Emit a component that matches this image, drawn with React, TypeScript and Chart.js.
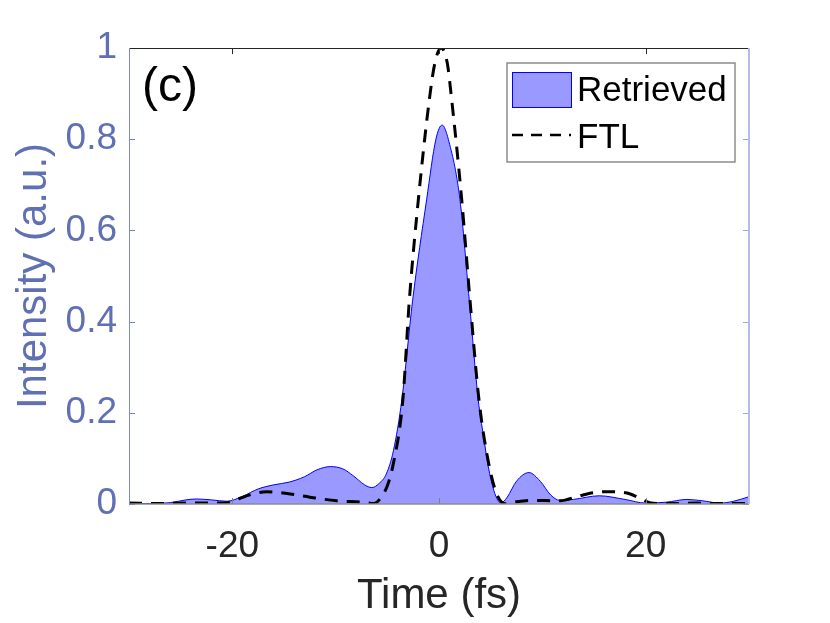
import React, { useEffect, useRef } from 'react';
import { Chart, registerables } from 'chart.js';

Chart.register(...registerables);

// ---- data ----
const retrievedTime = [
  -30, -28, -26, -24.5, -23.5, -22, -20.5, -19, -17.5, -16, -14.5, -13, -11.8, -10.5, -9.3, -8.3,
  -7.2, -6.5, -5.8, -5.1, -4.4, -3.6, -2.55, -1.2, -0.3, 0.3, 0.9, 2.03, 2.93, 3.8, 4.3, 4.77,
  5.3, 5.7, 6.0, 6.6, 7.5, 8.7, 9.8, 10.8, 11.7, 13, 15.5, 18, 20, 22, 24, 25.5, 27.2, 28.5, 30,
];
const retrievedIntensity = [
  0.001, 0.001, 0.003, 0.009, 0.011, 0.009, 0.006, 0.017, 0.033, 0.042, 0.048, 0.06, 0.075, 0.082, 0.077, 0.062,
  0.042, 0.036, 0.045, 0.066, 0.118, 0.228, 0.447, 0.667, 0.8, 0.831, 0.8, 0.667, 0.447, 0.228, 0.15, 0.082,
  0.03, 0.008, 0.002, 0.015, 0.05, 0.069, 0.05, 0.02, 0.008, 0.01, 0.018, 0.01, 0.002, 0.004, 0.01, 0.007, 0.002, 0.006, 0.016,
];
const ftlTime = [
  -30, -27, -24, -22, -20.5, -19.3, -18.3, -16.7, -14.7, -12.5, -9.9, -7.3, -6.3, -5.55, -5.0, -4.48,
  -3.5, -2.87, -2.0, -0.94, -0.4, 0.2, 0.8, 1.23, 2.2, 3.0, 3.87, 4.87, 5.7, 6.5, 7.5, 8.8, 11.7,
  13.6, 15, 16.5, 18.2, 19.5, 20.4, 22, 25, 27, 30,
];
const ftlIntensity = [
  0.002, 0.001, 0.002, 0.002, 0.003, 0.012, 0.02, 0.027, 0.023, 0.015, 0.007, 0.004, 0.001, 0.016, 0.04, 0.082,
  0.228, 0.447, 0.667, 0.886, 0.967, 1.0, 0.967, 0.886, 0.667, 0.447, 0.228, 0.082, 0.016, 0.0, 0.005, 0.008, 0.007,
  0.018, 0.025, 0.027, 0.024, 0.012, 0.003, 0.001, 0.002, 0.001, 0.001,
];
const seriesLabels = ['Retrieved', 'FTL'];
const xTickValues = [-20, 0, 20];
const yTickValues = [0, 0.2, 0.4, 0.6, 0.8, 1];
const xTitle = 'Time (fs)';
const yTitle = 'Intensity (a.u.)';
const panelLabel = '(c)';

const FONT = '"Liberation Sans", Arial, Helvetica, sans-serif';
const Y_COLOR = '#5f70b5';
const X_COLOR = '#262626';
const FILL = '#9999ff';
const EDGE = '#0000ff';

const framePlugin = {
  id: 'frame',
  afterDatasetsDraw(chart: any) {
    const { ctx, chartArea: a, scales } = chart;
    const xs = scales.x;
    const ys = scales.y;
    const tl = 6;
    ctx.save();
    // inward ticks
    ctx.lineWidth = 1;
    xTickValues.forEach((v) => {
      const px = Math.round(xs.getPixelForValue(v)) + 0.5;
      ctx.strokeStyle = '#808080';
      ctx.beginPath();
      ctx.moveTo(px, a.bottom);
      ctx.lineTo(px, a.bottom - tl);
      ctx.stroke();
      ctx.strokeStyle = '#262626';
      ctx.beginPath();
      ctx.moveTo(px, a.top);
      ctx.lineTo(px, a.top + tl);
      ctx.stroke();
    });
    yTickValues.forEach((v) => {
      const py = Math.round(ys.getPixelForValue(v)) + 0.5;
      ctx.strokeStyle = '#6f80c8';
      ctx.beginPath();
      ctx.moveTo(a.left, py);
      ctx.lineTo(a.left + tl, py);
      ctx.stroke();
      ctx.strokeStyle = '#9aa6dc';
      ctx.beginPath();
      ctx.moveTo(a.right, py);
      ctx.lineTo(a.right - tl, py);
      ctx.stroke();
    });
    // frame lines
    ctx.strokeStyle = '#262626';
    ctx.lineWidth = 1;
    ctx.beginPath();
    ctx.moveTo(a.left, a.top + 0.5);
    ctx.lineTo(a.right, a.top + 0.5);
    ctx.stroke();
    ctx.strokeStyle = '#8c8c8c';
    ctx.lineWidth = 1.5;
    ctx.beginPath();
    ctx.moveTo(a.left, a.bottom);
    ctx.lineTo(a.right, a.bottom);
    ctx.stroke();
    ctx.strokeStyle = '#7b8bd0';
    ctx.lineWidth = 1;
    ctx.beginPath();
    ctx.moveTo(a.left + 0.5, a.top);
    ctx.lineTo(a.left + 0.5, a.bottom);
    ctx.stroke();
    ctx.strokeStyle = '#b3bde6';
    ctx.lineWidth = 2;
    ctx.beginPath();
    ctx.moveTo(a.right, a.top);
    ctx.lineTo(a.right, a.bottom);
    ctx.stroke();

    // panel label
    ctx.fillStyle = '#000';
    ctx.font = `48px ${FONT}`;
    ctx.textBaseline = 'middle';
    ctx.textAlign = 'left';
    ctx.fillText(panelLabel, a.left + 13, a.top + 40);

    // legend
    const bx = 507, by = 63, bw = 228, bh = 99;
    ctx.fillStyle = '#fff';
    ctx.fillRect(bx, by, bw, bh);
    ctx.strokeStyle = '#8c8c8c';
    ctx.lineWidth = 1.5;
    ctx.strokeRect(bx, by, bw, bh);
    const ds = chart.data.datasets;
    // row 1 : patch
    ctx.fillStyle = FILL;
    ctx.fillRect(512, 72, 59, 35);
    ctx.strokeStyle = EDGE;
    ctx.lineWidth = 1;
    ctx.strokeRect(512.5, 72.5, 59, 35);
    ctx.fillStyle = '#000';
    ctx.font = `35px ${FONT}`;
    ctx.fillText(ds[1].label, 577, 91);
    // row 2 : dashed
    ctx.strokeStyle = '#000';
    ctx.lineWidth = 2.5;
    ctx.setLineDash([11, 8]);
    ctx.beginPath();
    ctx.moveTo(512, 135);
    ctx.lineTo(571, 135);
    ctx.stroke();
    ctx.setLineDash([]);
    ctx.fillText(ds[0].label, 577, 138);
    ctx.restore();
  },
};

export default function App() {
  const ref = useRef<HTMLCanvasElement | null>(null);
  useEffect(() => {
    if (!ref.current) return;
    const chart = new Chart(ref.current, {
      type: 'line',
      data: {
        datasets: [
          {
            label: seriesLabels[1],
            data: ftlTime.map((t, i) => ({ x: t, y: ftlIntensity[i] })),
            borderColor: '#000',
            borderWidth: 3,
            borderDash: [13, 9],
            pointRadius: 0,
            fill: false,
            cubicInterpolationMode: 'monotone',
            order: 0,
          },
          {
            label: seriesLabels[0],
            data: retrievedTime.map((t, i) => ({ x: t, y: retrievedIntensity[i] })),
            borderColor: EDGE,
            borderWidth: 1,
            backgroundColor: FILL,
            pointRadius: 0,
            fill: 'origin',
            cubicInterpolationMode: 'monotone',
            order: 1,
          },
        ],
      },
      options: {
        animation: false,
        responsive: false,
        maintainAspectRatio: false,
        layout: { padding: { left: 0, right: 81, top: 48, bottom: 0 } },
        plugins: { legend: { display: false }, tooltip: { enabled: false } },
        scales: {
          x: {
            type: 'linear',
            min: -30,
            max: 30,
            grid: { display: false, drawTicks: false },
            border: { display: false },
            afterBuildTicks: (s: any) => {
              s.ticks = xTickValues.map((v) => ({ value: v }));
            },
            afterFit: (s: any) => {
              s.height = 119;
            },
            ticks: {
              color: X_COLOR,
              font: { family: FONT, size: 37 },
              padding: 21,
              maxRotation: 0,
              callback: (v: any) => String(v),
            },
            title: {
              display: true,
              text: xTitle,
              color: X_COLOR,
              font: { family: FONT, size: 42 },
              padding: { top: 0, bottom: 1 },
            },
          },
          y: {
            type: 'linear',
            min: 0,
            max: 1,
            grid: { display: false, drawTicks: false },
            border: { display: false },
            afterBuildTicks: (s: any) => {
              s.ticks = yTickValues.map((v) => ({ value: v }));
            },
            afterFit: (s: any) => {
              s.width = 129;
            },
            ticks: {
              color: Y_COLOR,
              font: { family: FONT, size: 37 },
              padding: 12,
              callback: (v: any) => String(v),
            },
            title: {
              display: true,
              text: yTitle,
              color: Y_COLOR,
              font: { family: FONT, size: 42 },
              padding: { top: 9, bottom: 0 },
            },
          },
        },
      },
      plugins: [framePlugin],
    } as any);
    return () => chart.destroy();
  }, []);
  return (
    <div style={{ position: 'fixed', left: 0, top: 0, width: 830, height: 623, background: '#fff' }}>
      <canvas ref={ref} width={830} height={623} style={{ width: 830, height: 623 }} />
    </div>
  );
}
